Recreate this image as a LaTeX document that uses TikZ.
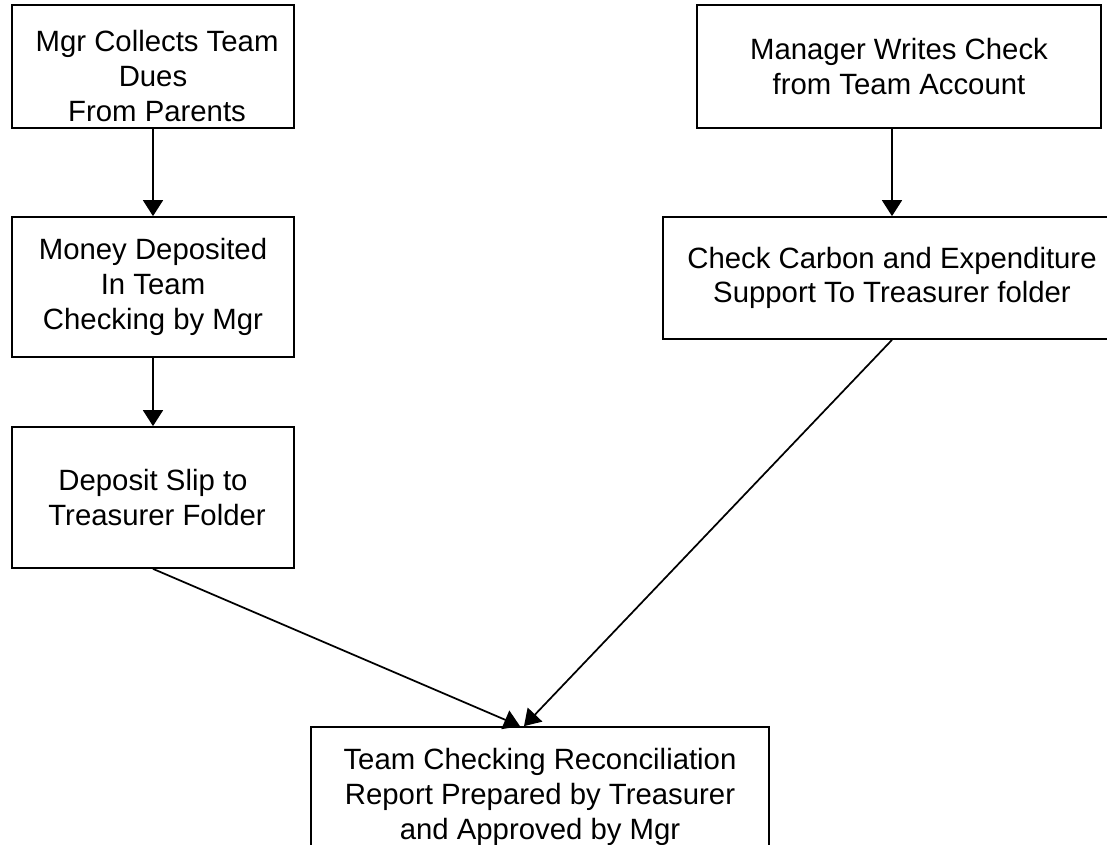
\documentclass[tikz,border=0pt]{standalone}
\usepackage{fontspec}
\setmainfont{Liberation Sans}
\usetikzlibrary{positioning, arrows.meta, calc}

\begin{document}
\begin{tikzpicture}[x=0.75pt, y=-0.75pt,
    font=\fontsize{22}{26}\selectfont,
    procbox/.style={draw=black, line width=1.3pt, fill=white, inner sep=0pt, align=center},
    flow/.style={line width=1.3pt, -{Triangle[length=12pt, width=15pt]}}]
    \useasboundingbox (0,0) rectangle (1107,845);
    % left column: dues
    \node[procbox, minimum width=211.5pt, minimum height=92.25pt] (dues) at (153,66.5)
      {\rule{0pt}{30pt}\ Mgr Collects Team\\Dues\\\ From Parents};
    \node[procbox, minimum width=211.5pt, minimum height=105pt] (deposit) at (153,287)
      {Money Deposited\\In Team\\Checking by Mgr};
    \node[procbox, minimum width=211.5pt, minimum height=105.75pt] (slip) at (153,497.5)
      {Deposit Slip to\\\ Treasurer Folder};
    % right column: checks
    \node[procbox, minimum width=303pt, minimum height=92.25pt] (check) at (899,66.5)
      {Manager Writes Check\\from Team Account};
    \node[procbox, minimum width=344pt, minimum height=91.5pt] (carbon) at (892,278)
      {Check Carbon and Expenditure\\Support To Treasurer folder};
    % bottom
    \node[procbox, minimum width=343.5pt, minimum height=105pt] (report) at (540,797)
      {Team Checking Reconciliation\\Report Prepared by Treasurer\\and Approved by Mgr};

    \draw[flow] (dues) -- (deposit);
    \draw[flow] (deposit) -- (slip);
    \draw[flow] (check.south -| carbon.north) -- (carbon.north);
    \draw[flow] (slip.south) -- ([xshift=-15pt]report.north);
    \draw[flow] (carbon.south) -- ([xshift=-12pt]report.north);
  \end{tikzpicture}
\end{document}
